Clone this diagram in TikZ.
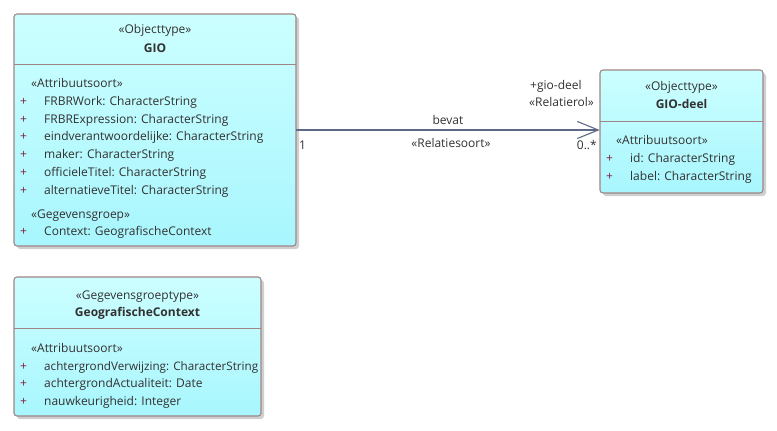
\documentclass[tikz,border=0pt]{standalone}
\usepackage{fontspec}
\setmainfont{Open Sans}
\usetikzlibrary{arrows.meta,calc}
\definecolor{boxtop}{HTML}{CCFFFF}
\definecolor{boxbot}{HTML}{A8F6FE}
\definecolor{boxline}{HTML}{A08486}
\definecolor{txt}{HTML}{333030}
\definecolor{plus}{HTML}{7A2040}
\definecolor{conn}{HTML}{5C6A88}
\definecolor{shade}{HTML}{CFCFCF}
\tikzset{
  umlbox/.style={draw=boxline, line width=1.1pt, rounded corners=3pt, top color=boxtop, bottom color=boxbot},
  shadowbox/.style={fill=shade, rounded corners=3pt, draw=none},
  sep/.style={draw=boxline, line width=0.8pt},
  ttl/.style={font=\fontsize{12}{14}\selectfont, text=txt, inner sep=0pt, anchor=base},
  bttl/.style={font=\fontsize{12}{14}\selectfont\bfseries, text=txt, inner sep=0pt, anchor=base},
  attr/.style={font=\fontsize{12}{14}\selectfont, text=txt, inner sep=0pt, anchor=base west},
  pl/.style={font=\fontsize{12}{14}\selectfont, text=plus, inner sep=0pt, anchor=base west},
  lbl/.style={font=\fontsize{12}{14}\selectfont, text=txt, inner sep=0pt, anchor=base},
  assoc/.style={draw=conn, line width=1.1pt, -{Straight Barb[length=21pt,width=17pt,line width=1.1pt]}}
}
\begin{document}
\begin{tikzpicture}[x=1pt,y=-1pt]
\useasboundingbox (0,0) rectangle (777,431);
% shadows
\path[shadowbox] (17,17) rectangle (299,249);
\path[shadowbox] (603,73) rectangle (766,196);
\path[shadowbox] (17,280) rectangle (264,419);
% GIO
\path[umlbox] (14,14) rectangle (296,246);
\node[inner sep=0pt, minimum width=282pt, minimum height=232pt] (gio) at (155,130) {};
\draw[sep] (14,64) -- (296,64);
\node[ttl] (gio-st) at (155,34) {«Objecttype»};
\node[bttl] (gio-nm) at (155,52) {GIO};
\node[attr] (gio-a0) at (31,87) {«Attribuutsoort»};
\foreach \y/\t [count=\i] in {105/FRBRWork: CharacterString,123/FRBRExpression: CharacterString,140/eindverantwoordelijke: CharacterString,158/maker: CharacterString,176/officieleTitel: CharacterString,194/alternatieveTitel: CharacterString}{
  \node[pl] (gio-p\i) at (20,\y) {+};
  \node[attr] (gio-a\i) at (44,\y) {\t};
}
\node[attr] (gio-g0) at (31,218) {«Gegevensgroep»};
\node[pl] (gio-gp) at (20,235) {+};
\node[attr] (gio-g1) at (44,235) {Context: GeografischeContext};
% GIO-deel
\path[umlbox] (600,70) rectangle (763,193);
\node[inner sep=0pt, minimum width=163pt, minimum height=123pt] (giodeel) at (681.5,131.5) {};
\draw[sep] (600,121) -- (763,121);
\node[ttl] (gd-st) at (681.5,90) {«Objecttype»};
\node[bttl] (gd-nm) at (681.5,108) {GIO-deel};
\node[attr] (gd-a0) at (616,144) {«Attribuutsoort»};
\node[pl] (gd-p1) at (606,162) {+};
\node[attr] (gd-a1) at (630,162) {id: CharacterString};
\node[pl] (gd-p2) at (606,180) {+};
\node[attr] (gd-a2) at (630,180) {label: CharacterString};
% GeografischeContext
\path[umlbox] (14,277) rectangle (261,416);
\node[inner sep=0pt, minimum width=247pt, minimum height=139pt] (geo) at (137.5,346.5) {};
\draw[sep] (14,328) -- (261,328);
\node[ttl] (geo-st) at (137.5,299) {«Gegevensgroeptype»};
\node[bttl] (geo-nm) at (137.5,316) {GeografischeContext};
\node[attr] (geo-a0) at (31,352) {«Attribuutsoort»};
\node[pl] (geo-p1) at (20,370) {+};
\node[attr] (geo-a1) at (44,370) {\resizebox{214pt}{!}{\strut achtergrondVerwijzing: CharacterString}};
\node[pl] (geo-p2) at (20,387) {+};
\node[attr] (geo-a2) at (44,387) {achtergrondActualiteit: Date};
\node[pl] (geo-p3) at (20,405) {+};
\node[attr] (geo-a3) at (44,405) {nauwkeurigheid: Integer};
% association
\coordinate (src) at (296,130);
\draw[assoc] (src) -- (giodeel.west |- src);
\node[lbl] (l-bevat) at (448,124) {bevat};
\node[lbl] (l-rs) at (451,147) {«Relatiesoort»};
\node[attr] (l-1) at (299,149) {1};
\node[lbl, anchor=base east] (l-m) at (597,149) {0..*};
\node[attr] (l-gd) at (530,89) {+gio-deel};
\node[attr] (l-rol) at (529,106) {«Relatierol»};
\end{tikzpicture}
\end{document}
